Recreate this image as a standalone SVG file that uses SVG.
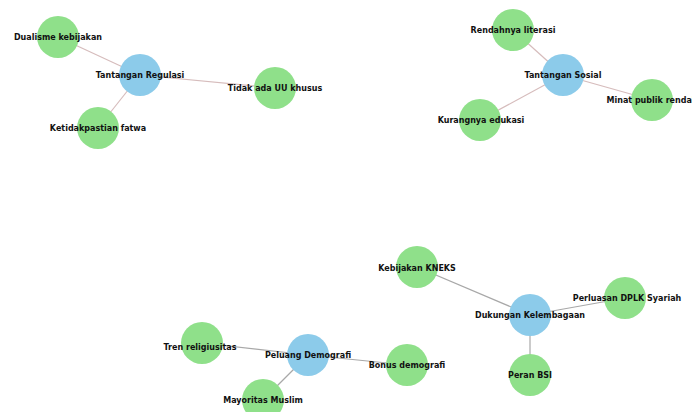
<svg xmlns="http://www.w3.org/2000/svg" width="692" height="412" viewBox="0 0 692 412">
<style>
.c{fill:#8fe08a}
.h{fill:#8ccbea}
.t{font-family:"DejaVu Sans",sans-serif;font-weight:bold;font-size:8px;fill:#111;text-anchor:middle;dominant-baseline:central}
.e1{stroke:#d6bcbc;stroke-width:1.2;fill:none}
.e2{stroke:#a8a8a8;stroke-width:1.2;fill:none}
</style>
<rect width="692" height="412" fill="#fff"/>
<g id="connectors">
<line class="e1" x1="140" y1="75" x2="58" y2="37"/>
<line class="e1" x1="140" y1="75" x2="275" y2="88"/>
<line class="e1" x1="140" y1="75" x2="98" y2="128"/>
<line class="e1" x1="563" y1="75" x2="513" y2="30"/>
<line class="e1" x1="563" y1="75" x2="652" y2="100"/>
<line class="e1" x1="563" y1="75" x2="480" y2="120"/>
<line class="e2" x1="530" y1="315" x2="417" y2="267"/>
<line class="e2" x1="530" y1="315" x2="625" y2="298"/>
<line class="e2" x1="530" y1="315" x2="530" y2="375"/>
<line class="e2" x1="308" y1="355" x2="202" y2="343"/>
<line class="e2" x1="308" y1="355" x2="407" y2="365"/>
<line class="e2" x1="308" y1="355" x2="263" y2="400"/>
</g>
<g id="n_dualisme"><circle class="c" cx="58" cy="37" r="21"/><text class="t" x="58" y="37">Dualisme kebijakan</text></g>
<g id="n_tidak"><circle class="c" cx="275" cy="88" r="21"/><text class="t" x="275" y="88">Tidak ada UU khusus</text></g>
<g id="n_ketidak"><circle class="c" cx="98" cy="128" r="21"/><text class="t" x="98" y="128">Ketidakpastian fatwa</text></g>
<g id="n_regulasi"><circle class="h" cx="140" cy="75" r="21"/><text class="t" x="140" y="75">Tantangan Regulasi</text></g>
<g id="n_rendahnya"><circle class="c" cx="513" cy="30" r="21"/><text class="t" x="513" y="30">Rendahnya literasi</text></g>
<g id="n_minat"><circle class="c" cx="652" cy="100" r="21"/><text class="t" x="652" y="100">Minat publik rendah</text></g>
<g id="n_kurangnya"><circle class="c" cx="480" cy="120" r="21"/><text class="t" x="481" y="120">Kurangnya edukasi</text></g>
<g id="n_sosial"><circle class="h" cx="563" cy="75" r="21"/><text class="t" x="563" y="75">Tantangan Sosial</text></g>
<g id="n_kneks"><circle class="c" cx="417" cy="267" r="21"/><text class="t" x="417" y="268">Kebijakan KNEKS</text></g>
<g id="n_dplk"><circle class="c" cx="625" cy="298" r="21"/><text class="t" x="627" y="298">Perluasan DPLK Syariah</text></g>
<g id="n_bsi"><circle class="c" cx="530" cy="375" r="21"/><text class="t" x="530" y="375">Peran BSI</text></g>
<g id="n_dukungan"><circle class="h" cx="530" cy="315" r="21"/><text class="t" x="530" y="315">Dukungan Kelembagaan</text></g>
<g id="n_tren"><circle class="c" cx="202" cy="343" r="21"/><text class="t" x="200" y="347">Tren religiusitas</text></g>
<g id="n_bonus"><circle class="c" cx="407" cy="365" r="21"/><text class="t" x="407" y="365">Bonus demografi</text></g>
<g id="n_mayoritas"><circle class="c" cx="263" cy="400" r="21"/><text class="t" x="263" y="400">Mayoritas Muslim</text></g>
<g id="n_peluang"><circle class="h" cx="308" cy="355" r="21"/><text class="t" x="308" y="355">Peluang Demografi</text></g>
</svg>
